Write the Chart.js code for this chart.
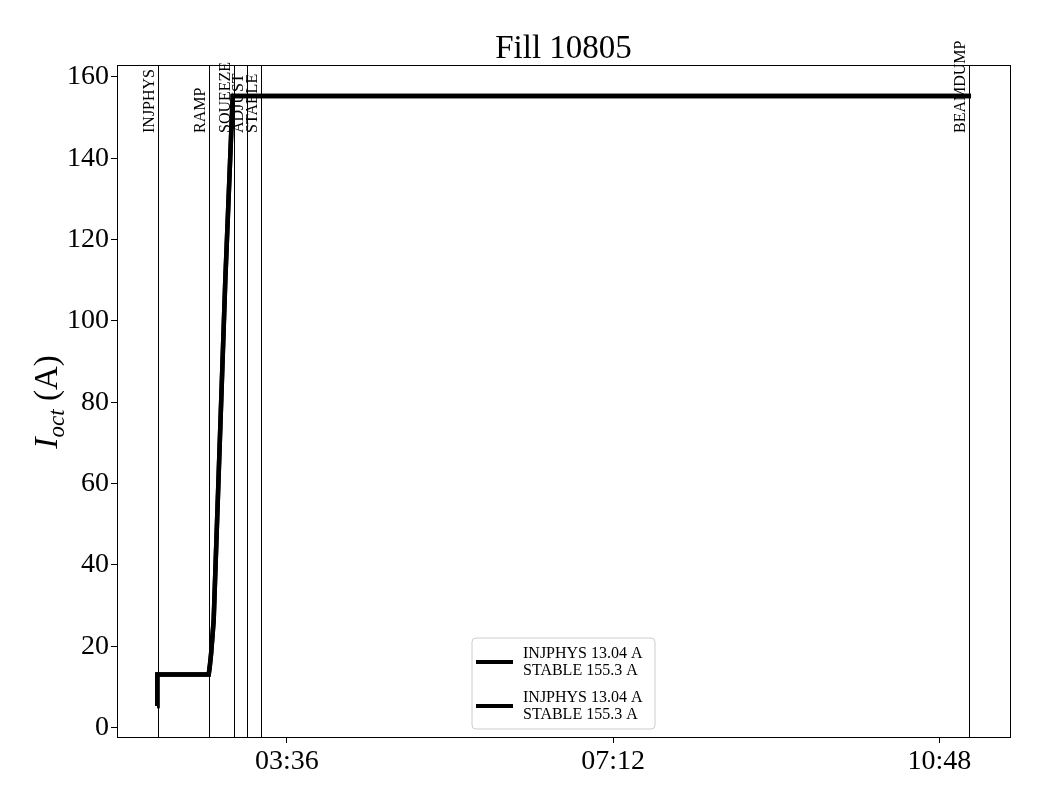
<!DOCTYPE html>
<html>
<head>
<meta charset="utf-8">
<title>Fill 10805</title>
<script src="https://cdn.jsdelivr.net/npm/chart.js@4"></script>
<style>
  html, body { margin: 0; padding: 0; background: #ffffff; }
  #chart { display: block; }
</style>
</head>
<body>
<canvas id="chart" width="1040" height="800"></canvas>
<script>
// データ（時刻は 0:00 からの分）
const times = [130.2, 130.3, 164.3, 165.0, 165.9, 167.6, 172.6, 175.3, 178.0, 180.2, 669.0];
const current = [5.3, 13.04, 13.04, 15.0, 18.2, 26.4, 80.5, 110.0, 135.0, 155.3, 155.3];

// イベント（縦線）
const eventNames = ['INJPHYS', 'RAMP', 'SQUEEZE', 'ADJUST', 'STABLE', 'BEAMDUMP'];
const eventTimes = [130.5, 164.2, 181.3, 189.7, 198.9, 667.8];

// 目盛り
const xTicks = [216, 432, 648];
const yTicks = [0, 20, 40, 60, 80, 100, 120, 140, 160];

// 凡例
const legendLines = [
  ['INJPHYS 13.04 A', 'STABLE 155.3 A'],
  ['INJPHYS 13.04 A', 'STABLE 155.3 A']
];

const SERIF = '"Liberation Serif", "Times New Roman", serif';

/**
 * 分 -> HH:MM
 */
function formatMinutes(value) {
  const h = Math.floor(value / 60);
  const m = Math.round(value - h * 60);
  return String(h).padStart(2, '0') + ':' + String(m).padStart(2, '0');
}

/**
 * 縦線、ラベル、タイトル、凡例を描くプラグイン
 */
const decorations = {
  id: 'decorations',
  beforeDatasetsDraw(chart) {
    const ctx = chart.ctx;
    const area = chart.chartArea;
    const x = chart.scales.x;

    ctx.save();
    ctx.strokeStyle = '#000000';
    ctx.lineWidth = 1;
    eventTimes.forEach((t, i) => {
      const px = Math.round(x.getPixelForValue(t)) + 0.5;
      ctx.beginPath();
      ctx.moveTo(px, area.top);
      ctx.lineTo(px, area.bottom);
      ctx.stroke();

      // 縦書きラベル
      ctx.save();
      ctx.translate(px - 1, 133);
      ctx.rotate(-Math.PI / 2);
      ctx.fillStyle = '#000000';
      ctx.font = '16px ' + SERIF;
      ctx.textAlign = 'left';
      ctx.textBaseline = 'bottom';
      ctx.fillText(eventNames[i], 0, 0);
      ctx.restore();
    });
    ctx.restore();
  },
  afterDraw(chart) {
    const ctx = chart.ctx;
    const area = chart.chartArea;

    ctx.save();
    // 枠
    ctx.strokeStyle = '#000000';
    ctx.lineWidth = 1;
    ctx.strokeRect(Math.round(area.left) + 0.5, Math.round(area.top) + 0.5,
      Math.round(area.right - area.left), Math.round(area.bottom - area.top));

    // タイトル
    ctx.fillStyle = '#000000';
    ctx.font = '33px ' + SERIF;
    ctx.textAlign = 'center';
    ctx.textBaseline = 'alphabetic';
    ctx.fillText('Fill 10805', (area.left + area.right) / 2, 58);

    // Y 軸タイトル I_oct (A)
    ctx.save();
    ctx.translate(57, 402);
    ctx.rotate(-Math.PI / 2);
    const big = '33px ' + SERIF;
    const bigItalic = 'italic 34px ' + SERIF;
    const sub = 'italic 23px ' + SERIF;
    ctx.font = bigItalic;
    const wI = ctx.measureText('I').width;
    ctx.font = sub;
    const wSub = ctx.measureText('oct').width;
    ctx.font = big;
    const wRest = ctx.measureText(' (A)').width;
    let cx = -(wI + wSub + wRest) / 2;
    ctx.textAlign = 'left';
    ctx.font = bigItalic;
    ctx.fillText('I', cx, 0);
    cx += wI;
    ctx.font = sub;
    ctx.fillText('oct', cx, 7);
    cx += wSub;
    ctx.font = big;
    ctx.fillText(' (A)', cx, 0);
    ctx.restore();

    // 凡例
    const bx = 472, by = 638, bw = 183, bh = 91, r = 4;
    ctx.beginPath();
    ctx.moveTo(bx + r, by);
    ctx.lineTo(bx + bw - r, by);
    ctx.arcTo(bx + bw, by, bx + bw, by + r, r);
    ctx.lineTo(bx + bw, by + bh - r);
    ctx.arcTo(bx + bw, by + bh, bx + bw - r, by + bh, r);
    ctx.lineTo(bx + r, by + bh);
    ctx.arcTo(bx, by + bh, bx, by + bh - r, r);
    ctx.lineTo(bx, by + r);
    ctx.arcTo(bx, by, bx + r, by, r);
    ctx.closePath();
    ctx.fillStyle = 'rgba(255,255,255,0.8)';
    ctx.fill();
    ctx.strokeStyle = '#cccccc';
    ctx.lineWidth = 1;
    ctx.stroke();

    ctx.font = '16px ' + SERIF;
    ctx.fillStyle = '#000000';
    ctx.textAlign = 'left';
    ctx.textBaseline = 'alphabetic';
    legendLines.forEach((lines, i) => {
      const y0 = by + 24 + i * 44;
      ctx.strokeStyle = '#000000';
      ctx.lineWidth = 4;
      ctx.beginPath();
      ctx.moveTo(476, y0);
      ctx.lineTo(513, y0);
      ctx.stroke();
      ctx.fillText(lines[0], 523, y0 - 4);
      ctx.fillText(lines[1], 523, y0 + 13);
    });
    ctx.restore();
  }
};

function makeDataset(label) {
  return {
    label: label,
    data: times.map((t, i) => ({ x: t, y: current[i] })),
    borderColor: '#000000',
    backgroundColor: '#000000',
    borderWidth: 4.5,
    pointRadius: 0,
    tension: 0,
    fill: false
  };
}

new Chart(document.getElementById('chart').getContext('2d'), {
  type: 'line',
  data: {
    datasets: [makeDataset(legendLines[0].join('\n')), makeDataset(legendLines[1].join('\n'))]
  },
  options: {
    responsive: false,
    animation: false,
    layout: { padding: { top: 65, right: 30, left: 0, bottom: 0 } },
    plugins: {
      legend: { display: false },
      title: { display: false },
      tooltip: { enabled: false }
    },
    scales: {
      x: {
        type: 'linear',
        min: 103.6,
        max: 694.8,
        afterBuildTicks(scale) { scale.ticks = xTicks.map(v => ({ value: v })); },
        afterFit(scale) { scale.height = 63; },
        grid: { display: true, drawOnChartArea: false, drawTicks: true, tickLength: 6, color: '#000000' },
        border: { display: true, color: '#000000', width: 1 },
        ticks: {
          color: '#000000',
          font: { family: SERIF, size: 28 },
          padding: 2,
          maxRotation: 0,
          callback: value => formatMinutes(value)
        }
      },
      y: {
        type: 'linear',
        min: -2.3,
        max: 162.9,
        afterBuildTicks(scale) { scale.ticks = yTicks.map(v => ({ value: v })); },
        afterFit(scale) { scale.width = 117; },
        grid: { display: true, drawOnChartArea: false, drawTicks: true, tickLength: 6, color: '#000000' },
        border: { display: true, color: '#000000', width: 1 },
        ticks: {
          color: '#000000',
          font: { family: SERIF, size: 28 },
          padding: 2
        }
      }
    }
  },
  plugins: [decorations]
});
</script>
</body>
</html>
